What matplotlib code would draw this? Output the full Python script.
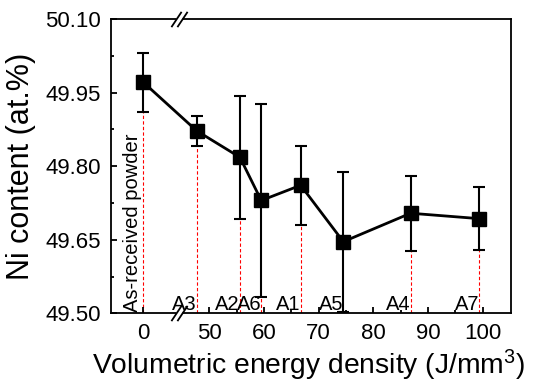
import numpy as np
import matplotlib
matplotlib.use('Agg')
import matplotlib.pyplot as plt
import matplotlib.transforms as mtransforms
from matplotlib.patches import ConnectionPatch

# Fonts (Arial-like)
plt.rcParams['font.family'] = ['Liberation Sans', 'DejaVu Sans']
plt.rcParams['mathtext.fontset'] = 'custom'
plt.rcParams['mathtext.rm'] = 'Liberation Sans'
plt.rcParams['mathtext.it'] = 'Liberation Sans:italic'

# Data
samples = ['As-received powder', 'A3', 'A2', 'A6', 'A1', 'A5', 'A4', 'A7']
energy = np.array([0, 47.7, 55.6, 59.5, 66.7, 74.5, 86.8, 99.3])
ni = np.array([49.971, 49.872, 49.818, 49.730, 49.761, 49.646, 49.704, 49.693])
err = np.array([0.060, 0.030, 0.125, 0.196, 0.080, 0.143, 0.076, 0.064])

yticks = [49.50, 49.65, 49.80, 49.95, 50.10]
xticks_right = [50, 60, 70, 80, 90, 100]

fig = plt.figure(figsize=(5.34, 3.83), dpi=100)
ax1 = fig.add_axes([0.2073, 0.182, 0.1279, 0.7684])
ax2 = fig.add_axes([0.3352, 0.182, 0.6212, 0.7684])

for ax in (ax1, ax2):
    # red dashed drop lines
    ax.vlines(energy, 49.50, ni - err, colors='red', linestyles=(0, (3, 2)), lw=0.8, zorder=1)
    ax.set_ylim(49.50, 50.10)
    for s in ax.spines.values():
        s.set_linewidth(1.3)
    ax.tick_params(which='both', direction='in', width=1.3, labelsize=16, pad=7)
    ax.tick_params(which='major', length=4.5)
    ax.tick_params(which='minor', length=2.5)
    ax.tick_params(top=False, right=False)

ax1.set_xlim(-5.96, 6.53)
ax2.set_xlim(44.46, 105.1)

# connecting line
ax2.plot(energy[1:], ni[1:], color='black', lw=2, zorder=2)
con = ConnectionPatch(xyA=(energy[0], ni[0]), coordsA=ax1.transData,
                      xyB=(energy[1], ni[1]), coordsB=ax2.transData,
                      color='black', lw=2, zorder=2)
fig.add_artist(con)

eb1 = ax1.errorbar(energy[:1], ni[:1], yerr=err[:1], fmt='s', ms=9.5, color='black',
                   capsize=4.3, elinewidth=1.5, capthick=1.5, zorder=3)
eb2 = ax2.errorbar(energy[1:], ni[1:], yerr=err[1:], fmt='s', ms=9.5, color='black',
                   capsize=4.3, elinewidth=1.5, capthick=1.5, zorder=3)
for art in eb2.get_children():
    art.set_clip_on(False)

# ticks
ax1.set_xticks([0])
ax1.set_yticks(yticks)
ax1.set_yticks(np.arange(49.575, 50.1, 0.15), minor=True)
ax1.set_yticklabels(['%.2f' % v for v in yticks])
ax2.set_xticks(xticks_right)
ax2.set_xticks([55, 65, 75, 85, 95], minor=True)
ax2.set_yticks(yticks)
ax2.tick_params(which='both', left=False, labelleft=False)

ax1.spines['right'].set_visible(False)
ax2.spines['left'].set_visible(False)

# sample labels
ax1.annotate(samples[0], xy=(energy[0], 49.50), xytext=(-1, 1), textcoords='offset points',
             rotation=90, ha='right', va='bottom', fontsize=14.5)
for name, x in zip(samples[1:], energy[1:]):
    ax2.annotate(name, xy=(x, 49.50), xytext=(0, 2.4), textcoords='offset points',
                 ha='right', va='baseline', fontsize=14.5)

# break marks
for yy in (0, 1):
    for dx in (-2.2, 2.2):
        tr = ax2.transAxes + mtransforms.ScaledTranslation(dx / 72, 0, fig.dpi_scale_trans)
        ax2.plot([0], [yy], transform=tr, marker=[(-1, -1.5), (1, 1.5)], ms=11,
                 mec='black', mew=1.3, clip_on=False, zorder=5)
    ax2.plot([0], [yy], transform=ax2.transAxes, marker='_', ms=5, mec='white',
             mew=2.5, clip_on=False, zorder=4)

ax1.set_ylabel('Ni content (at.%)', fontsize=22, labelpad=7)
fig.text(0.578, 0.024, r'Volumetric energy density (J/mm$^3$)', ha='center',
         va='baseline', fontsize=20.3)

fig.savefig('out.png', dpi=100)
